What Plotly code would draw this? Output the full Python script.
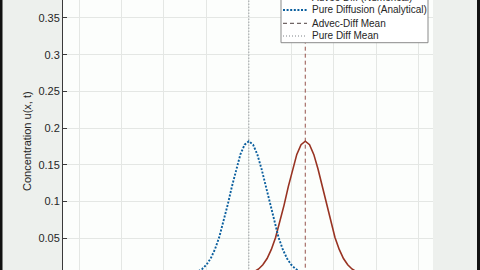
import plotly.graph_objects as go

# ---- data ----
pure_x = [-22, -10, -9, -8, -7, -6.5, -6, -5.5, -5, -4.5, -4, -3.5, -3, -2.5, -2, -1.5, -1, -0.5, 0,
          0.5, 1, 1.5, 2, 2.5, 3, 3.5, 4, 4.5, 5, 5.5, 6, 6.5, 7, 8, 9, 10, 22]
pure_u = [0, 0, 0.0000, 0.0002, 0.0011, 0.0022, 0.0043, 0.0078, 0.0135, 0.0221, 0.0344, 0.0508, 0.0713,
          0.0949, 0.1200, 0.1440, 0.1640, 0.1773, 0.1820,
          0.1773, 0.1640, 0.1440, 0.1200, 0.0949, 0.0713, 0.0508, 0.0344, 0.0221, 0.0135, 0.0078, 0.0043,
          0.0022, 0.0011, 0.0002, 0.0000, 0, 0]
adv_x = [-22, -3.35, -2.35, -1.35, -0.35, 0.15, 0.65, 1.15, 1.65, 2.15, 2.65, 3.15, 3.65, 4.15, 4.65, 5.15,
         5.65, 6.15, 6.65, 7.15, 7.65, 8.15, 8.65, 9.15, 9.65, 10.15, 10.65, 11.15, 11.65, 12.15, 12.65,
         13.15, 13.65, 14.65, 15.65, 16.65, 22]
adv_u = [0, 0, 0.0000, 0.0002, 0.0011, 0.0022, 0.0043, 0.0078, 0.0135, 0.0221, 0.0344, 0.0508, 0.0713,
         0.0949, 0.1200, 0.1440, 0.1640, 0.1773, 0.1820,
         0.1773, 0.1640, 0.1440, 0.1200, 0.0949, 0.0713, 0.0508, 0.0344, 0.0221, 0.0135, 0.0078, 0.0043,
         0.0022, 0.0011, 0.0002, 0.0000, 0, 0]
pure_mean = 0
adv_mean = 6.65
y_ticks = [0.05, 0.1, 0.15, 0.2, 0.25, 0.3, 0.35]
legend_labels = ["Advec-Diff (Numerical)", "Pure Diffusion (Analytical)", "Advec-Diff Mean", "Pure Diff Mean"]

W, H = 480, 270
L, R = 63, 433
PW = R - L

RED = "#983322"
BLUE = "#0b5f9e"
MEANC = "#8a4038"
GRAYD = "#6f757a"
TXT = "#262626"

DOTC = "2px,1.6px"
DASHM = "4px,3px"
DOTM = "1px,2px"

fig = go.Figure()
fig.add_trace(go.Scatter(x=[adv_mean, adv_mean], y=[0, 0.4], mode="lines",
                         line=dict(color=MEANC, width=0.9, dash=DASHM)))
fig.add_trace(go.Scatter(x=[pure_mean, pure_mean], y=[0, 0.4], mode="lines",
                         line=dict(color=GRAYD, width=0.9, dash=DOTM)))
fig.add_trace(go.Scatter(x=adv_x, y=adv_u, mode="lines", line=dict(color=RED, width=1.6)))
fig.add_trace(go.Scatter(x=pure_x, y=pure_u, mode="lines", line=dict(color=BLUE, width=1.9, dash=DOTC)))


def px(xp):
    return (xp - L) / PW


def py(yp):
    return 1 - yp / H


shapes = []
# dark frame bands at the image edges
shapes.append(dict(type="rect", xref="paper", yref="paper", x0=px(0), x1=px(2.5), y0=-0.1, y1=1.1,
                   fillcolor="#111111", line=dict(width=0), layer="above"))
shapes.append(dict(type="rect", xref="paper", yref="paper", x0=px(477), x1=px(481), y0=-0.1, y1=1.1,
                   fillcolor="#111111", line=dict(width=0), layer="above"))
# legend box
shapes.append(dict(type="rect", xref="paper", yref="paper", x0=px(281), x1=px(428), y0=py(42.7), y1=py(-20),
                   fillcolor="#ffffff", line=dict(color="#8a8a8a", width=1), layer="above"))
row_y = [-3, 10, 23.3, 36]
styles = [dict(color=RED, width=1.6), dict(color=BLUE, width=1.9, dash=DOTC),
          dict(color="#3a2a2a", width=0.9, dash=DASHM), dict(color=GRAYD, width=0.9, dash=DOTM)]
annotations = []
for lab, ry, st in zip(legend_labels, row_y, styles):
    shapes.append(dict(type="line", xref="paper", yref="paper", x0=px(283), x1=px(307), y0=py(ry), y1=py(ry),
                       line=st, layer="above"))
    annotations.append(dict(text=lab, xref="paper", yref="paper", x=px(310), y=py(ry), xanchor="left",
                            yanchor="middle", showarrow=False, font=dict(size=10, color=TXT)))

annotations.append(dict(text="Concentration u(x, t)", xref="paper", yref="paper", x=px(27), y=py(141),
                        xanchor="center", yanchor="middle", textangle=-90, showarrow=False,
                        font=dict(size=11, color=TXT)))

fig.update_layout(
    width=W, height=H, autosize=False,
    margin=dict(l=L, r=W - R, t=0, b=0),
    paper_bgcolor="#edf0ed", plot_bgcolor="#fcfefc",
    showlegend=False,
    font=dict(family="Liberation Sans, Arial, sans-serif", color=TXT),
    shapes=shapes, annotations=annotations,
)
fig.update_xaxes(range=[-21.9, 21.7], tick0=0, dtick=5, showticklabels=False, showgrid=True,
                 gridcolor="#e4e7e4", gridwidth=1, zeroline=False, showline=False, ticks="")
fig.update_yaxes(range=[0.0064, 0.3745], tickvals=y_ticks, ticktext=[f"{v:g}" for v in y_ticks],
                 showgrid=True, gridcolor="#e4e7e4", gridwidth=1, zeroline=False,
                 showline=True, linecolor="#3a3a3a", linewidth=1, ticks="inside", ticklen=4,
                 tickcolor="#3a3a3a", tickfont=dict(size=11, color=TXT))

fig.write_html("out.html")
